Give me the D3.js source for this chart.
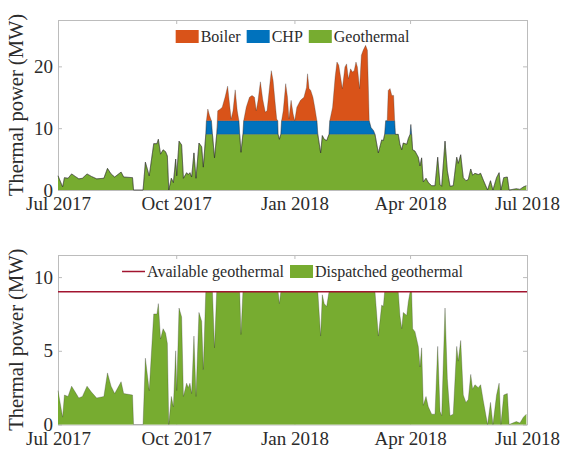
<!DOCTYPE html>
<html lang="en">
<head>
<meta charset="utf-8">
<title>Thermal power</title>
<script src="https://cdnjs.cloudflare.com/ajax/libs/d3/7.8.5/d3.min.js"></script>
<style>
  body { margin: 0; background: #fff; }
  svg { display: block; }
  svg text { font-family: "Liberation Serif", "Times New Roman", serif; }
</style>
</head>
<body>
<div id="chart"></div>
<script>
// days since 1 Jul 2017
const days = [
  0, 3.6, 5.0, 7.8, 10.6, 13.4, 16.2, 19.0, 22.6, 26.0,
  30.1, 35.7, 38.5, 41.3, 44.1, 49.1, 51.1, 58.0, 58.8, 66.2,
  68.0, 71.0, 74.5, 77.0, 78.1, 79.8, 81.8, 83.7, 85.1, 86.2,
  88.2, 89.8, 91.6, 92.4, 94.2, 96.2, 97.6, 100.1, 101.4, 102.7,
  104.0, 105.8, 107.4, 109.7, 111.8, 113.1, 115.0, 115.5, 116.6, 118.0,
  119.4, 120.2, 121.8, 123.5, 124.3, 126.4, 127.8, 130.0, 132.0, 133.6,
  134.8, 136.2, 137.9, 139.5, 140.8, 141.4, 142.4, 143.9, 144.5, 146.5,
  149.0, 151.0, 152.9, 154.3, 155.7, 157.5, 159.3, 161.3, 162.7, 164.6,
  166.0, 167.4, 168.8, 170.2, 171.0, 171.3, 172.3, 173.4, 174.0, 175.3,
  177.2, 178.6, 179.7, 181.4, 183.0, 184.2, 185.9, 188.7, 191.4, 193.4,
  194.2, 195.4, 196.7, 198.4, 199.8, 201.5, 202.2, 204.4, 205.7, 207.2,
  209.1, 210.9, 211.5, 213.7, 215.7, 217.1, 218.5, 219.9, 221.3, 223.3,
  224.6, 226.0, 227.7, 229.1, 230.5, 231.9, 233.0, 234.7, 236.1, 237.5,
  239.4, 240.8, 242.2, 243.6, 245.6, 246.7, 249.3, 251.9, 253.2, 254.2,
  255.0, 256.2, 257.0, 258.4, 259.8, 261.2, 262.0, 262.6, 264.8, 266.1,
  267.5, 268.7, 271.4, 272.6, 274.0, 274.6, 275.2, 276.0, 277.8, 280.4,
  281.7, 283.0, 284.3, 286.4, 288.2, 290.8, 293.4, 295.5, 297.3, 298.6,
  301.2, 303.0, 305.1, 307.6, 310.3, 311.5, 313.4, 315.4, 317.5, 319.3,
  321.2, 322.7, 324.5, 327.1, 328.9, 331.0, 334.3, 336.6, 338.5, 341.3,
  343.3, 344.7, 346.9, 349.7, 351.1, 356.7, 359.5, 362.2, 364.5
];

// MW
const geothermal = [
  2.3, 0.5, 2.0, 1.9, 2.6, 2.2, 1.8, 1.9, 2.6, 2.2,
  1.8, 1.9, 3.5, 2.6, 2.1, 2.9, 2.1, 2.0, 0, 0,
  4.5, 2.3, 7.5, 7.5, 8.2, 5.8, 6.5, 6.2, 5.5, 0,
  1.9, 1.2, 5.0, 2.3, 7.9, 7.3, 1.9, 2.8, 2.5, 2.8,
  2.1, 6.0, 1.9, 7.6, 7.0, 3.7, 9, 9, 9, 9,
  9, 9, 5.2, 9, 9, 9, 9, 9, 9, 9,
  9, 9, 9, 9, 9, 9, 6.1, 9, 9, 9,
  9, 9, 9, 9, 9, 9, 9, 9, 9, 9,
  9, 9, 9, 9, 9, 9, 8.2, 9, 9, 9,
  9, 9, 9, 9, 9, 9, 9, 9, 9, 9,
  9, 9, 9, 9, 9, 9, 9, 6.0, 8.8, 8.2,
  8.0, 9, 9, 9, 9, 9, 9, 9, 9, 9,
  9, 9, 9, 9, 9, 9, 9, 9, 9, 9,
  9, 9, 9, 9, 9, 9, 6.0, 8.1, 8.0, 9,
  9, 9, 9, 9, 9, 9, 9, 9, 9, 7.4,
  6.5, 7.6, 7.4, 8.3, 9, 9, 9, 6.5, 6.3, 5.3,
  3.9, 5.2, 1.3, 1.9, 1.2, 0.7, 0.7, 5.3, 0.9, 0.6,
  7.9, 3.1, 0.6, 0.7, 5.3, 4.3, 5.7, 2.0, 1.5, 1.7,
  3.4, 2.4, 2.7, 2.5, 2.7, 1.6, 0, 1.5, 0, 2.0,
  2.8, 0, 2.0, 2.1, 0, 0.2, 0.1, 0.5, 0.7
];

const chp = [
  0, 0, 0, 0, 0, 0, 0, 0, 0, 0,
  0, 0, 0, 0, 0, 0, 0, 0, 0, 0,
  0, 0, 0, 0, 0, 0, 0, 0, 0, 0,
  0, 0, 0, 0, 0, 0, 0, 0, 0, 0,
  0, 0, 0, 0, 0, 0, 0, 2.2, 2.2, 2.2,
  2.2, 0, 0, 0, 2.2, 2.2, 2.2, 2.2, 2.2, 2.2,
  2.2, 2.2, 2.2, 2.2, 2.2, 0, 0, 0, 2.2, 2.2,
  2.2, 2.2, 2.2, 2.2, 2.2, 2.2, 2.2, 2.2, 2.2, 2.2,
  2.2, 2.2, 2.2, 2.2, 2.2, 0, 0, 0, 2.2, 2.2,
  2.2, 2.2, 2.2, 2.2, 2.2, 2.2, 2.2, 2.2, 2.2, 2.2,
  2.2, 2.2, 2.2, 2.2, 2.2, 2.2, 0, 0, 0, 0,
  0, 0, 2.2, 2.2, 2.2, 2.2, 2.2, 2.2, 2.2, 2.2,
  2.2, 2.2, 2.2, 2.2, 2.2, 2.2, 2.2, 2.2, 2.2, 2.2,
  2.2, 2.2, 2.2, 1.1, 0.6, 0, 0, 0, 0, 0,
  2.2, 2.2, 2.2, 2.2, 2.2, 2.2, 2.2, 0, 0, 0,
  0, 0, 0, 0, 0, 1.6, 0, 0, 0, 0,
  0, 0, 0, 0, 0, 0, 0, 0, 0, 0,
  0, 0, 0, 0, 0, 0, 0, 0, 0, 0,
  0, 0, 0, 0, 0, 0, 0, 0, 0, 0,
  0, 0, 0, 0, 0, 0, 0, 0, 0
];

const boiler = [
  0, 0, 0, 0, 0, 0, 0, 0, 0, 0,
  0, 0, 0, 0, 0, 0, 0, 0, 0, 0,
  0, 0, 0, 0, 0, 0, 0, 0, 0, 0,
  0, 0, 0, 0, 0, 0, 0, 0, 0, 0,
  0, 0, 0, 0, 0, 0, 0, 0, 1.9, 0.8,
  0, 0, 0, 0, 1.6, 1.9, 2.2, 3.8, 5.6, 2.5,
  0.3, 1.6, 5.0, 1.6, 0, 0, 0, 0, 0, 2.2,
  3.8, 4.1, 3.8, 1.6, 3.3, 6.3, 3.5, 1.4, 1.6, 5.4,
  8.1, 6.5, 3.3, 0.3, 0, 0, 0, 0, 0, 1.6,
  6.0, 3.8, 0.3, 3.3, 1.1, 0, 2.2, 3.3, 3.8, 5.4,
  7.6, 5.2, 4.9, 3.8, 2.2, 0, 0, 0, 0, 0,
  0, 0, 0, 2.2, 7.1, 9.5, 9.0, 7.1, 5.2, 8.7,
  9.2, 6.8, 8.4, 7.9, 8.1, 9.5, 8.7, 5.2, 10.6, 11.4,
  12.2, 11.4, 0, 0, 0, 0, 0, 0, 0, 0,
  0, 0, 4.9, 5.2, 4.1, 4.1, 0, 0, 0, 0,
  0, 0, 0, 0, 0, 0, 0, 0, 0, 0,
  0, 0, 0, 0, 0, 0, 0, 0, 0, 0,
  0, 0, 0, 0, 0, 0, 0, 0, 0, 0,
  0, 0, 0, 0, 0, 0, 0, 0, 0, 0,
  0, 0, 0, 0, 0, 0, 0, 0, 0
];

const availableGeothermal = 9;
const xTickLabels = ["2017-07-01", "2017-10-01", "2018-01-01", "2018-04-01", "2018-07-01"];
const topYTicks = [0, 10, 20];
const bottomYTicks = [0, 5, 10];
const seriesNames = ["Geothermal", "CHP", "Boiler"];

const colours = { Geothermal: "#77ac30", CHP: "#0072bd", Boiler: "#d95319" };
const lineRed = "#a2142f";
const boxGray = "#bcbcbc";
const textCol = "#2b2b2b";

const w = 562, h = 450;
const left = 58, right = 527;

const start = Date.UTC(2017, 6, 1);
const toDate = d => new Date(start + d * 864e5);

const rows = days.map((d, i) => ({
  date: toDate(d),
  Geothermal: geothermal[i],
  CHP: chp[i],
  Boiler: boiler[i]
}));

const svg = d3.select("#chart").append("svg")
  .attr("width", w)
  .attr("height", h);

const x = d3.scaleUtc()
  .domain([toDate(0), new Date(Date.UTC(2018, 6, 1))])
  .range([left, right]);

const xTickDates = xTickLabels.map(s => new Date(s + "T00:00:00Z"));

function drawFrame(y, yTicks) {
  const y0 = y.range()[0], y1 = y.range()[1];
  const g = svg.append("g");

  const styleAxis = sel => {
    sel.attr("font-family", null).attr("font-size", 19);
    sel.selectAll(".domain").attr("stroke", boxGray).attr("stroke-width", 1);
    sel.selectAll(".tick line").attr("stroke", boxGray);
    sel.selectAll(".tick text").attr("fill", textCol);
  };

  g.append("g")
    .attr("transform", "translate(0," + y0 + ")")
    .call(d3.axisBottom(x).tickValues(xTickDates).tickFormat(d3.utcFormat("%b %Y"))
      .tickSizeInner(-4).tickSizeOuter(0).tickPadding(7))
    .call(styleAxis);
  g.append("g")
    .attr("transform", "translate(0," + y1 + ")")
    .call(d3.axisTop(x).tickValues(xTickDates).tickFormat("")
      .tickSizeInner(-4).tickSizeOuter(0))
    .call(styleAxis);
  g.append("g")
    .attr("transform", "translate(" + left + ",0)")
    .call(d3.axisLeft(y).tickValues(yTicks).tickSizeInner(-4).tickSizeOuter(0).tickPadding(5))
    .call(styleAxis);
  g.append("g")
    .attr("transform", "translate(" + right + ",0)")
    .call(d3.axisRight(y).tickValues(yTicks).tickFormat("").tickSizeInner(-4).tickSizeOuter(0))
    .call(styleAxis);

  // y label
  svg.append("text")
    .attr("transform", "translate(23," + ((y0 + y1) / 2) + ") rotate(-90)")
    .attr("text-anchor", "middle")
    .attr("font-size", 20.5)
    .attr("fill", textCol)
    .text("Thermal power (MW)");
}

// legend: items laid out in a row, centred on the plot
function drawLegend(items, yMid) {
  const g = svg.append("g").attr("font-size", 16);
  const iconW = 23, gapIcon = 2, gapItem = 6;
  const placed = items.map(it => {
    const t = g.append("text").attr("fill", textCol).attr("y", yMid + 5.5).text(it.label);
    return { it, t, tw: t.node().getComputedTextLength() };
  });
  const total = d3.sum(placed, p => iconW + gapIcon + p.tw) + gapItem * (placed.length - 1);
  let cx = (left + right) / 2 - total / 2;
  placed.forEach(p => {
    if (p.it.type === "line") {
      g.append("line")
        .attr("x1", cx).attr("x2", cx + iconW)
        .attr("y1", yMid).attr("y2", yMid)
        .attr("stroke", p.it.colour).attr("stroke-width", 1.5);
    } else {
      g.append("rect")
        .attr("x", cx).attr("y", yMid - 6.5)
        .attr("width", iconW).attr("height", 13)
        .attr("fill", p.it.colour);
    }
    p.t.attr("x", cx + iconW + gapIcon);
    cx += iconW + gapIcon + p.tw + gapItem;
  });
}

// ---------- top: stacked supply ----------
const yTop = d3.scaleLinear().domain([0, 27.5]).range([190, 20]);
drawFrame(yTop, topYTicks);

const stacked = d3.stack().keys(seriesNames)(rows);

const areaTop = d3.area()
  .x(d => x(d.data.date))
  .y0(d => yTop(d[0]))
  .y1(d => yTop(d[1]));
const edgeTop = d3.line()
  .x(d => x(d.data.date))
  .y(d => yTop(d[1]));

svg.append("g").selectAll("path.layer")
  .data(stacked)
  .join("path")
  .attr("class", "layer")
  .attr("fill", d => colours[d.key])
  .attr("d", areaTop);
svg.append("g").selectAll("path.edge")
  .data(stacked)
  .join("path")
  .attr("class", "edge")
  .attr("fill", "none")
  .attr("stroke", "#2a2a2a")
  .attr("stroke-opacity", 0.55)
  .attr("stroke-width", 0.5)
  .attr("d", edgeTop);

drawLegend([
  { label: "Boiler", colour: colours.Boiler, type: "patch" },
  { label: "CHP", colour: colours.CHP, type: "patch" },
  { label: "Geothermal", colour: colours.Geothermal, type: "patch" }
], 36.5);

// ---------- bottom: geothermal dispatch ----------
const yBot = d3.scaleLinear().domain([0, 11.5]).range([424.5, 255]);
drawFrame(yBot, bottomYTicks);

const areaBot = d3.area()
  .x(d => x(d.date))
  .y0(yBot(0))
  .y1(d => yBot(d.Geothermal));
svg.append("path")
  .datum(rows)
  .attr("fill", colours.Geothermal)
  .attr("d", areaBot);
svg.append("path")
  .datum(rows)
  .attr("fill", "none")
  .attr("stroke", "#2a2a2a")
  .attr("stroke-opacity", 0.55)
  .attr("stroke-width", 0.5)
  .attr("d", d3.line().x(d => x(d.date)).y(d => yBot(d.Geothermal)));

svg.append("line")
  .attr("x1", x.range()[0]).attr("x2", x.range()[1])
  .attr("y1", yBot(availableGeothermal)).attr("y2", yBot(availableGeothermal))
  .attr("stroke", lineRed)
  .attr("stroke-width", 1.5);

drawLegend([
  { label: "Available geothermal", colour: lineRed, type: "line" },
  { label: "Dispatched geothermal", colour: colours.Geothermal, type: "patch" }
], 271.5);
</script>
</body>
</html>
